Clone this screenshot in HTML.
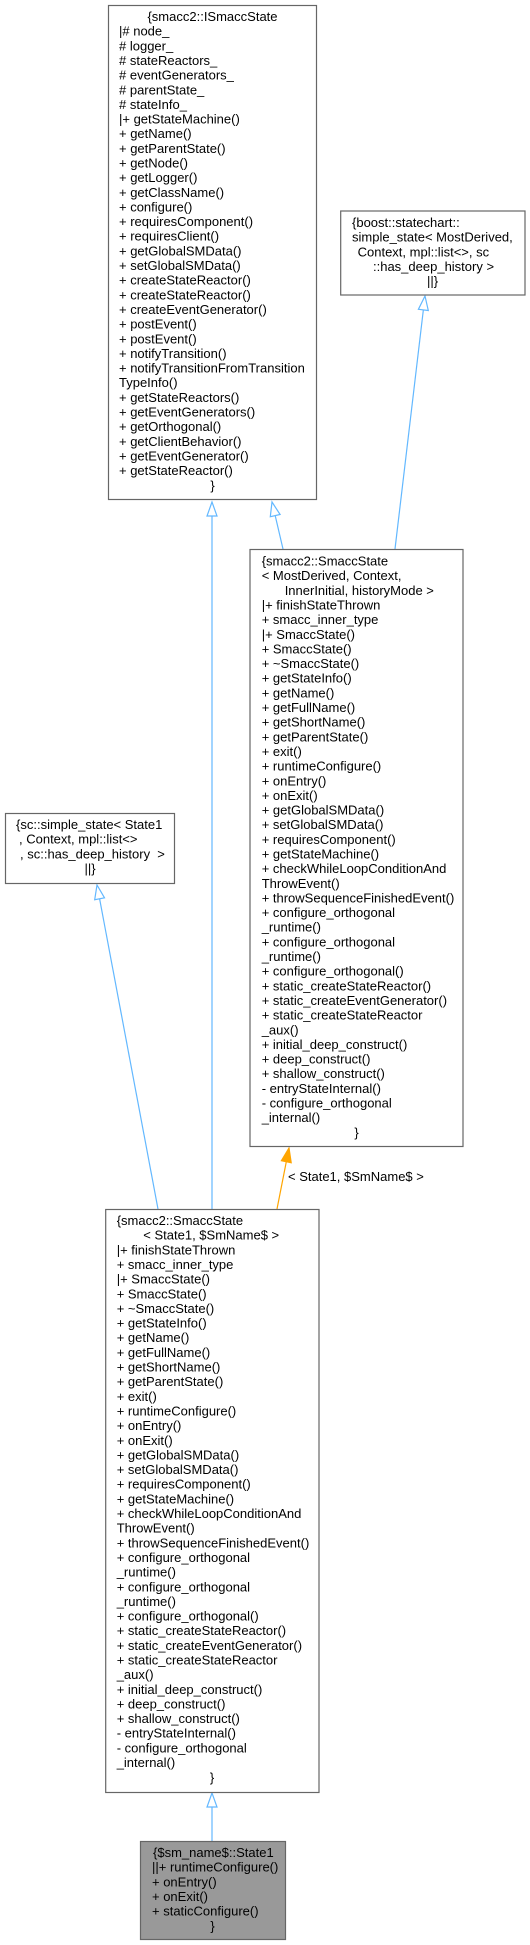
<!DOCTYPE html>
<html><head><meta charset="utf-8"><style>
html,body{margin:0;padding:0;background:#fff;}
svg{display:block;}
text{font-family:"Liberation Sans",Arial,sans-serif;font-size:13px;fill:#000;white-space:pre;}
</style></head><body>
<svg width="530" height="1945" viewBox="0 0 530 1945" xmlns="http://www.w3.org/2000/svg">
<rect width="530" height="1945" fill="#fff"/>
<!-- edges -->
<g stroke="#63b8ff" stroke-width="1.2" fill="none">
<line x1="212" y1="516" x2="212" y2="1209"/>
<line x1="283" y1="549" x2="275.2" y2="515.6"/>
<line x1="395" y1="549" x2="423.35" y2="309.9"/>
<line x1="158" y1="1209" x2="99.6" y2="898.8"/>
<line x1="212" y1="1807" x2="212" y2="1841"/>
</g>
<g stroke="#63b8ff" stroke-width="1.2" fill="#fff">
<polygon points="212,502 207,516 217,516"/>
<polygon points="272,502 280.1,514.5 270.3,516.7"/>
<polygon points="425,296 428.3,310.5 418.4,309.3"/>
<polygon points="97,885 104.5,897.8 94.7,899.7"/>
<polygon points="212,1793 207,1807 217,1807"/>
</g>
<line x1="277" y1="1209" x2="286.3" y2="1161.7" stroke="#ffa500" stroke-width="1.2"/>
<polygon points="289,1148 291.2,1162.7 281.4,1160.7" fill="#ffa500" stroke="#ffa500" stroke-width="1.2"/>
<text x="288" y="1181">&lt; State1, $SmName$ &gt;</text>

<!-- Box 1 ISmaccState -->
<rect x="108.5" y="5.5" width="208" height="494" fill="#fff" stroke="#666" stroke-width="1.2"/>
<text x="212.5" y="21" text-anchor="middle">{smacc2::ISmaccState</text>
<text x="119" y="21"><tspan x="119" dy="14.65">|# node_</tspan><tspan x="119" dy="14.65"># logger_</tspan><tspan x="119" dy="14.65"># stateReactors_</tspan><tspan x="119" dy="14.65"># eventGenerators_</tspan><tspan x="119" dy="14.65"># parentState_</tspan><tspan x="119" dy="14.65"># stateInfo_</tspan><tspan x="119" dy="14.65">|+ getStateMachine()</tspan><tspan x="119" dy="14.65">+ getName()</tspan><tspan x="119" dy="14.65">+ getParentState()</tspan><tspan x="119" dy="14.65">+ getNode()</tspan><tspan x="119" dy="14.65">+ getLogger()</tspan><tspan x="119" dy="14.65">+ getClassName()</tspan><tspan x="119" dy="14.65">+ configure()</tspan><tspan x="119" dy="14.65">+ requiresComponent()</tspan><tspan x="119" dy="14.65">+ requiresClient()</tspan><tspan x="119" dy="14.65">+ getGlobalSMData()</tspan><tspan x="119" dy="14.65">+ setGlobalSMData()</tspan><tspan x="119" dy="14.65">+ createStateReactor()</tspan><tspan x="119" dy="14.65">+ createStateReactor()</tspan><tspan x="119" dy="14.65">+ createEventGenerator()</tspan><tspan x="119" dy="14.65">+ postEvent()</tspan><tspan x="119" dy="14.65">+ postEvent()</tspan><tspan x="119" dy="14.65">+ notifyTransition()</tspan><tspan x="119" dy="14.65">+ notifyTransitionFromTransition</tspan><tspan x="119" dy="14.65">TypeInfo()</tspan><tspan x="119" dy="14.65">+ getStateReactors()</tspan><tspan x="119" dy="14.65">+ getEventGenerators()</tspan><tspan x="119" dy="14.65">+ getOrthogonal()</tspan><tspan x="119" dy="14.65">+ getClientBehavior()</tspan><tspan x="119" dy="14.65">+ getEventGenerator()</tspan><tspan x="119" dy="14.65">+ getStateReactor()</tspan></text>
<text x="212.5" y="489.8" text-anchor="middle">}</text>

<!-- Boost box -->
<rect x="340.7" y="211" width="184.3" height="84" fill="#fff" stroke="#666" stroke-width="1.2"/>
<text x="352" y="227">{boost::statechart::</text>
<text x="352" y="241.65">simple_state&lt; MostDerived,</text>
<text x="354" y="256.3"> Context, mpl::list&lt;&gt;, sc</text>
<text x="373" y="270.95">::has_deep_history &gt;</text>
<text x="432.5" y="285.6" text-anchor="middle">||}</text>

<!-- Template SmaccState -->
<rect x="250" y="549.5" width="213" height="597" fill="#fff" stroke="#666" stroke-width="1.2"/>
<text x="261.7" y="565.5">{smacc2::SmaccState</text>
<text x="261.7" y="580.15">&lt; MostDerived, Context,</text>
<text x="284.7" y="594.8">InnerInitial, historyMode &gt;</text>
<text x="261.7" y="594.8"><tspan x="261.7" dy="14.65">|+ finishStateThrown</tspan><tspan x="261.7" dy="14.65">+ smacc_inner_type</tspan><tspan x="261.7" dy="14.65">|+ SmaccState()</tspan><tspan x="261.7" dy="14.65">+ SmaccState()</tspan><tspan x="261.7" dy="14.65">+ ~SmaccState()</tspan><tspan x="261.7" dy="14.65">+ getStateInfo()</tspan><tspan x="261.7" dy="14.65">+ getName()</tspan><tspan x="261.7" dy="14.65">+ getFullName()</tspan><tspan x="261.7" dy="14.65">+ getShortName()</tspan><tspan x="261.7" dy="14.65">+ getParentState()</tspan><tspan x="261.7" dy="14.65">+ exit()</tspan><tspan x="261.7" dy="14.65">+ runtimeConfigure()</tspan><tspan x="261.7" dy="14.65">+ onEntry()</tspan><tspan x="261.7" dy="14.65">+ onExit()</tspan><tspan x="261.7" dy="14.65">+ getGlobalSMData()</tspan><tspan x="261.7" dy="14.65">+ setGlobalSMData()</tspan><tspan x="261.7" dy="14.65">+ requiresComponent()</tspan><tspan x="261.7" dy="14.65">+ getStateMachine()</tspan><tspan x="261.7" dy="14.65">+ checkWhileLoopConditionAnd</tspan><tspan x="261.7" dy="14.65">ThrowEvent()</tspan><tspan x="261.7" dy="14.65">+ throwSequenceFinishedEvent()</tspan><tspan x="261.7" dy="14.65">+ configure_orthogonal</tspan><tspan x="261.7" dy="14.65">_runtime()</tspan><tspan x="261.7" dy="14.65">+ configure_orthogonal</tspan><tspan x="261.7" dy="14.65">_runtime()</tspan><tspan x="261.7" dy="14.65">+ configure_orthogonal()</tspan><tspan x="261.7" dy="14.65">+ static_createStateReactor()</tspan><tspan x="261.7" dy="14.65">+ static_createEventGenerator()</tspan><tspan x="261.7" dy="14.65">+ static_createStateReactor</tspan><tspan x="261.7" dy="14.65">_aux()</tspan><tspan x="261.7" dy="14.65">+ initial_deep_construct()</tspan><tspan x="261.7" dy="14.65">+ deep_construct()</tspan><tspan x="261.7" dy="14.65">+ shallow_construct()</tspan><tspan x="261.7" dy="14.65">- entryStateInternal()</tspan><tspan x="261.7" dy="14.65">- configure_orthogonal</tspan><tspan x="261.7" dy="14.65">_internal()</tspan></text>
<text x="356.5" y="1136.85" text-anchor="middle">}</text>

<!-- sc::simple_state -->
<rect x="5.5" y="813.5" width="169" height="70" fill="#fff" stroke="#666" stroke-width="1.2"/>
<text x="16" y="829">{sc::simple_state&lt; State1</text>
<text x="19" y="843.65">, Context, mpl::list&lt;&gt;</text>
<text x="20" y="858.3">, sc::has_deep_history  &gt;</text>
<text x="90" y="872.95" text-anchor="middle">||}</text>

<!-- Bottom SmaccState -->
<rect x="105.7" y="1209.5" width="213.3" height="583" fill="#fff" stroke="#666" stroke-width="1.2"/>
<text x="116.7" y="1225">{smacc2::SmaccState</text>
<text x="143.3" y="1239.65">&lt; State1, $SmName$ &gt;</text>
<text x="116.7" y="1239.65"><tspan x="116.7" dy="14.65">|+ finishStateThrown</tspan><tspan x="116.7" dy="14.65">+ smacc_inner_type</tspan><tspan x="116.7" dy="14.65">|+ SmaccState()</tspan><tspan x="116.7" dy="14.65">+ SmaccState()</tspan><tspan x="116.7" dy="14.65">+ ~SmaccState()</tspan><tspan x="116.7" dy="14.65">+ getStateInfo()</tspan><tspan x="116.7" dy="14.65">+ getName()</tspan><tspan x="116.7" dy="14.65">+ getFullName()</tspan><tspan x="116.7" dy="14.65">+ getShortName()</tspan><tspan x="116.7" dy="14.65">+ getParentState()</tspan><tspan x="116.7" dy="14.65">+ exit()</tspan><tspan x="116.7" dy="14.65">+ runtimeConfigure()</tspan><tspan x="116.7" dy="14.65">+ onEntry()</tspan><tspan x="116.7" dy="14.65">+ onExit()</tspan><tspan x="116.7" dy="14.65">+ getGlobalSMData()</tspan><tspan x="116.7" dy="14.65">+ setGlobalSMData()</tspan><tspan x="116.7" dy="14.65">+ requiresComponent()</tspan><tspan x="116.7" dy="14.65">+ getStateMachine()</tspan><tspan x="116.7" dy="14.65">+ checkWhileLoopConditionAnd</tspan><tspan x="116.7" dy="14.65">ThrowEvent()</tspan><tspan x="116.7" dy="14.65">+ throwSequenceFinishedEvent()</tspan><tspan x="116.7" dy="14.65">+ configure_orthogonal</tspan><tspan x="116.7" dy="14.65">_runtime()</tspan><tspan x="116.7" dy="14.65">+ configure_orthogonal</tspan><tspan x="116.7" dy="14.65">_runtime()</tspan><tspan x="116.7" dy="14.65">+ configure_orthogonal()</tspan><tspan x="116.7" dy="14.65">+ static_createStateReactor()</tspan><tspan x="116.7" dy="14.65">+ static_createEventGenerator()</tspan><tspan x="116.7" dy="14.65">+ static_createStateReactor</tspan><tspan x="116.7" dy="14.65">_aux()</tspan><tspan x="116.7" dy="14.65">+ initial_deep_construct()</tspan><tspan x="116.7" dy="14.65">+ deep_construct()</tspan><tspan x="116.7" dy="14.65">+ shallow_construct()</tspan><tspan x="116.7" dy="14.65">- entryStateInternal()</tspan><tspan x="116.7" dy="14.65">- configure_orthogonal</tspan><tspan x="116.7" dy="14.65">_internal()</tspan></text>
<text x="212" y="1782" text-anchor="middle">}</text>

<!-- State1 -->
<rect x="140.5" y="1841.5" width="145" height="98" fill="#999" stroke="#666" stroke-width="1.2"/>
<text x="153" y="1857">{$sm_name$::State1</text>
<text x="152" y="1871.65">||+ runtimeConfigure()</text>
<text x="152" y="1886.3">+ onEntry()</text>
<text x="152" y="1900.95">+ onExit()</text>
<text x="152" y="1915.6">+ staticConfigure()</text>
<text x="212.5" y="1930.25" text-anchor="middle">}</text>
</svg>
</body></html>
